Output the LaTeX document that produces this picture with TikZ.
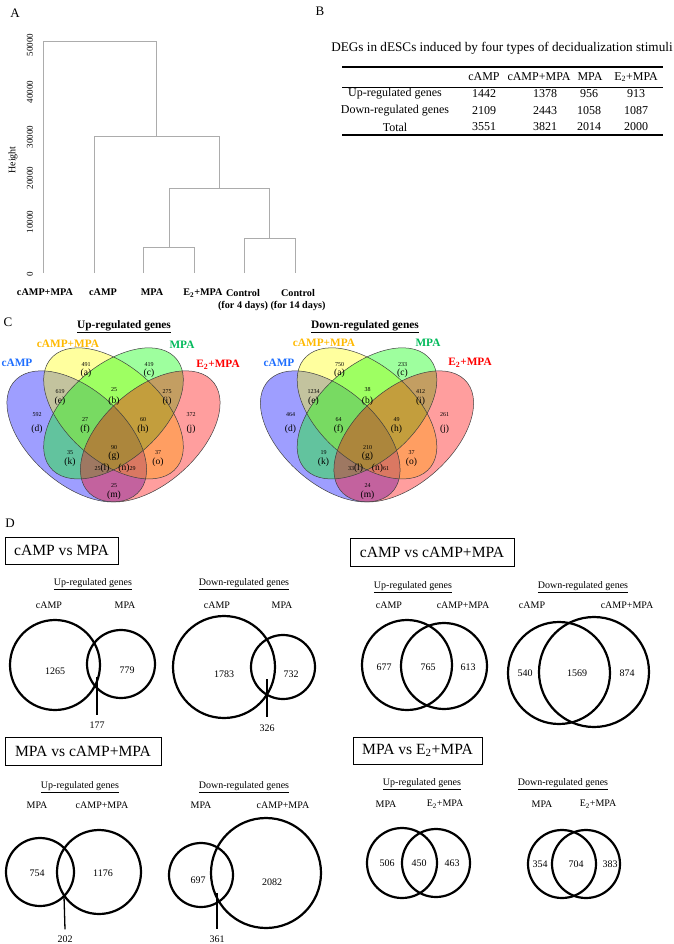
\documentclass[tikz,border=0pt]{standalone}
\usepackage{fontspec}
\setmainfont{Liberation Serif}
\usetikzlibrary{positioning}
\definecolor{vblue}{RGB}{0,0,255}
\definecolor{vyellow}{RGB}{255,255,0}
\definecolor{vgreen}{RGB}{0,255,0}
\definecolor{vred}{RGB}{255,0,0}
\definecolor{labcamp}{RGB}{30,110,255}
\definecolor{labcm}{RGB}{255,185,0}
\definecolor{labmpa}{RGB}{0,185,90}
\definecolor{labe}{RGB}{255,0,0}
\newcommand{\fsz}[1]{\fontsize{#1}{#1}\selectfont}
\newcommand{\etwo}{E\textsubscript{2}+MPA}
% four-ellipse Venn, shifted by #1
\newcommand{\quadvenn}[1]{%
  \begin{scope}[shift={(#1,544.5)}, x=10pt, y=10pt, xscale=24.5, yscale=23]
    \fill[vset, vblue, rotate around={-45:(0.35,0.47)}] (0.35,0.47) ellipse [x radius=0.35, y radius=0.2];
    \fill[vset, vyellow, rotate around={-45:(0.5,0.57)}] (0.5,0.57) ellipse [x radius=0.35, y radius=0.2];
    \fill[vset, vgreen, rotate around={45:(0.5,0.57)}] (0.5,0.57) ellipse [x radius=0.35, y radius=0.2];
    \fill[vset, vred, rotate around={45:(0.65,0.47)}] (0.65,0.47) ellipse [x radius=0.35, y radius=0.2];
    \foreach \ex/\ey/\ang in {0.35/0.47/-45, 0.5/0.57/-45, 0.5/0.57/45, 0.65/0.47/45}
      \draw[vline, rotate around={\ang:(\ex,\ey)}] (\ex,\ey) ellipse [x radius=0.35, y radius=0.2];
  \end{scope}}

\begin{document}
\begin{tikzpicture}[x=1pt, y=-1pt,
    panel/.style={font=\fsz{13}, inner sep=0},
    tree/.style={draw=gray!65, line width=0.8pt},
    leaf/.style={font=\fontsize{10.2}{12}\selectfont\bfseries, align=center, inner sep=0, anchor=north},
    ytick/.style={font=\fsz{9}, rotate=90, inner sep=0},
    cell/.style={font=\fsz{12}, inner sep=0},
    rulethick/.style={line width=1.2pt},
    setlabel/.style={font=\fsz{11.3}\bfseries, inner sep=0},
    vset/.style={fill opacity=0.38},
    vline/.style={draw=black!75, line width=0.5pt},
    num/.style={font=\fsz{6}, inner sep=0},
    reg/.style={font=\fsz{9.5}, inner sep=0},
    cmpbox/.style={draw, line width=0.8pt, font=\fsz{15.6}, inner sep=0},
    subhead/.style={font=\fsz{10}, inner sep=0},
    grp/.style={font=\fsz{10}, inner sep=0},
    ring/.style={line width=2.2pt},
    cnt/.style={font=\fsz{10}, inner sep=0},
    lead/.style={line width=1.3pt}
]
\useasboundingbox (0,0) rectangle (673,944);

% panel letters
\node[panel] (lblA) at (15,13) {A};
\node[panel] (lblB) at (320,11) {B};
\node[panel] (lblC) at (8,322) {C};
\node[panel] (lblD) at (10,523) {D};

% A: dendrogram
\node[font=\fsz{10}, rotate=90, inner sep=0] (height) at (13,160) {Height};
\foreach \ty/\tv in {45/50000, 92/40000, 137/30000, 178/20000, 222/10000, 274/0}
  \node[ytick] (tick\tv) at (30,\ty) {\tv};
\draw[tree] (43,273) -- (43,41) -- (156,41) -- (156,136);
\draw[tree] (94,273) -- (94,136) -- (219,136) -- (219,188);
\draw[tree] (169,247) -- (169,188) -- (269,188) -- (269,238);
\draw[tree] (143,273) -- (143,247) -- (194,247) -- (194,273);
\draw[tree] (244,273) -- (244,238) -- (295,238) -- (295,273);
\node[leaf] (leafcm) at (45,289) {cAMP+MPA};
\node[leaf] (leafc) at (103,289) {cAMP};
\node[leaf] (leafm) at (152,289) {MPA};
\node[leaf] (leafe) at (203,289) {\etwo};
\node[leaf] (leafk4) at (243,289) {Control\\(for 4 days)};
\node[leaf] (leafk14) at (298,289) {Control\\(for 14 days)};

% B: table
\node[font=\fsz{13.2}, inner sep=0] (tabtitle) at (502,48) {DEGs in dESCs induced by four types of decidualization stimuli};
\draw[rulethick] (342,67) -- (663,67);
\draw[line width=0.6pt] (342,87) -- (663,87);
\draw[rulethick] (342,135) -- (663,135);
\foreach \cx/\ct [count=\i] in {484/cAMP, 539/cAMP+MPA, 590/MPA, 636/\etwo}
  \node[cell] (head\i) at (\cx,77) {\ct};
\foreach \ry/\rl/\va/\vb/\vc/\vd [count=\j] in {94/Up-regulated genes/1442/1378/956/913,
    111/Down-regulated genes/2109/2443/1058/1087, 127/Total/3551/3821/2014/2000}{
  \node[cell] (row\j) at (395,\ry) {\rl};
  \node[cell] (row\j a) at (484,\ry) {\va};
  \node[cell] (row\j b) at (545,\ry) {\vb};
  \node[cell] (row\j c) at (589,\ry) {\vc};
  \node[cell] (row\j d) at (636,\ry) {\vd};
}

% C: four-set Venn diagrams
\node[font=\fsz{11.4}\bfseries, inner sep=0] (uptitle) at (124,327) {\underline{Up-regulated genes}};
\node[font=\fsz{11.4}\bfseries, inner sep=0] (dntitle) at (365,327) {\underline{Down-regulated genes}};
\quadvenn{-9}
\quadvenn{244.5}
\node[setlabel, labcamp] (usc) at (17,363) {cAMP};
\node[setlabel, labcm] (uscm) at (68,344) {cAMP+MPA};
\node[setlabel, labmpa] (usm) at (182,345) {MPA};
\node[setlabel, labe] (use) at (218,365) {\etwo};
\node[setlabel, labcamp] (dsc) at (279,363) {cAMP};
\node[setlabel, labcm] (dscm) at (324,343) {cAMP+MPA};
\node[setlabel, labmpa] (dsm) at (428,343) {MPA};
\node[setlabel, labe] (dse) at (470,363) {\etwo};
\foreach \px/\py/\ly/\rg/\vl in {86/365/373/a/491, 149/365/373/c/419, 60/392/401/e/619,
    114/390/401/b/25, 167/392/401/i/275, 37/415/429/d/592, 85/420/429/f/27,
    143/420/429/h/60, 191/415/429/j/372, 70/453/462/k/35, 114/448/456/g/90,
    158/453/462/o/37, 114/486/495/m/25}{
  \node[num] (uN-\rg) at (\px,\py) {\vl};
  \node[reg] (uL-\rg) at (\px,\ly) {(\rg)};
}
\node[reg] (uL-l) at (102,468) {{\fsz{6}25}(l)};
\node[reg] (uL-n) at (127,468) {(n){\fsz{6}29}};
\foreach \px/\py/\ly/\rg/\vl in {86/365/373/a/750, 149/365/373/c/233, 60/392/401/e/1234,
    114/390/401/b/38, 167/392/401/i/412, 37/415/429/d/464, 85/420/429/f/64,
    143/420/429/h/49, 191/415/429/j/261, 70/453/462/k/19, 114/448/456/g/210,
    158/453/462/o/37, 114/486/495/m/24}{
  \node[num] (dN-\rg) at (\px+253.5,\py) {\vl};
  \node[reg] (dL-\rg) at (\px+253.5,\ly) {(\rg)};
}
\node[reg] (dL-l) at (355.5,468) {{\fsz{6}33}(l)};
\node[reg] (dL-n) at (380.5,468) {(n){\fsz{6}61}};

% D: pairwise comparisons
\node[cmpbox, minimum width=113, minimum height=27] (boxcm) at (61.5,550.5) {cAMP vs MPA};
\node[cmpbox, minimum width=164, minimum height=28] (boxccm) at (432,552) {cAMP vs cAMP+MPA};
\node[cmpbox, minimum width=156, minimum height=28] (boxmcm) at (83,751) {MPA vs cAMP+MPA};
\node[cmpbox, minimum width=129, minimum height=27] (boxme) at (417.5,750.5) {MPA vs \etwo};

\foreach \hx/\hy/\hw [count=\k] in {93/584/Up, 244/584/Down, 413/587/Up, 583/587/Down,
    80/787/Up, 244/787/Down, 422/784/Up, 563/784/Down}
  \node[subhead] (sub\k) at (\hx,\hy) {\underline{\hw-regulated genes}};

\foreach \gx/\gy/\gt [count=\k] in {49/605/cAMP, 125/605/MPA, 217/605/cAMP, 282/605/MPA,
    389/605/cAMP, 463/605/cAMP+MPA, 532/605/cAMP, 627/605/cAMP+MPA,
    37/805/MPA, 102/805/cAMP+MPA, 201/805/MPA, 283/805/cAMP+MPA,
    386/804/MPA, 445/804/\etwo, 542/804/MPA, 598/804/\etwo}
  \node[grp] (grp\k) at (\gx,\gy) {\gt};

\foreach \cx/\cy/\crad in {55/665/45, 121/664/34, 224/667/51, 283/667/32,
    407/665/45, 444/666/43, 559/673/51, 594/672/55,
    40/872/34, 99/872/42, 201/875/32, 266/873/55,
    402/863/35, 436/863/34, 562/864/34, 586/864/34}
  \draw[ring] (\cx,\cy) circle [radius=\crad];

\foreach \nx/\ny/\nv in {55/671/1265, 127/670/779, 224/674/1783, 291/674/732,
    384/667/677, 428/667/765, 468/667/613, 525/673/540, 577/673/1569, 627/673/874,
    37/873/754, 103/873/1176, 198/880/697, 272/882/2082,
    387/863/506, 419/863/450, 452/863/463, 540/864/354, 576/864/704, 610/864/383}
  \node[cnt] (c\nv) at (\nx,\ny) {\nv};

% shared counts pointed at the overlap
\coordinate (p177) at (97,677);
\coordinate (p326) at (267,679);
\coordinate (p202) at (64,896);
\coordinate (p361) at (217,893);
\node[cnt] (c177) at (97,725) {177};
\node[cnt] (c326) at (267,728) {326};
\node[cnt] (c202) at (65,939) {202};
\node[cnt] (c361) at (217,939) {361};
\draw[lead] (p177) -- ([yshift=7pt]c177.north);
\draw[lead] (p326) -- ([yshift=7pt]c326.north);
\draw[lead] (p202) -- ([yshift=6pt]c202.north);
\draw[lead] (p361) -- ([yshift=6pt]c361.north);
\end{tikzpicture}
\end{document}
